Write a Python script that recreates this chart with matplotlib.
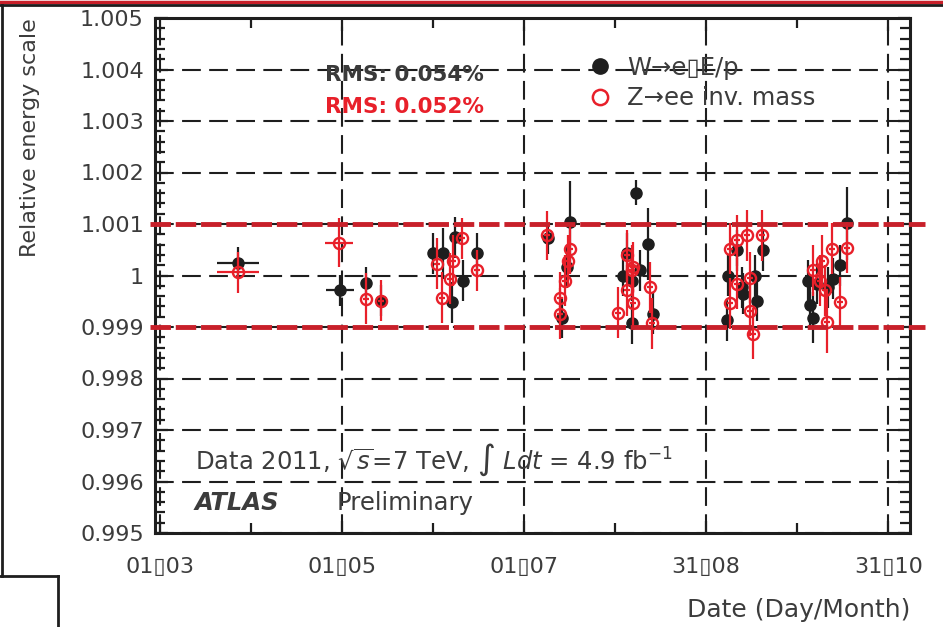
import numpy as np
import matplotlib
matplotlib.use("Agg")
from matplotlib import pyplot as plt
from matplotlib.lines import Line2D

plt.rcParams['font.family'] = ['DejaVu Sans']

# day of year 2011
w_day = [86.1, 120.3, 129.0, 134.1, 151.5, 154.8, 158.9, 157.9, 161.5, 166.2,
         190.0, 197.4, 196.4, 194.7, 219.5, 223.5, 216.5, 215.2, 220.9, 218.2,
         225.2, 218.2, 253.4, 262.1, 250.3, 259.4, 255.0, 250.0, 255.4, 260.1,
         290.1, 287.8, 285.5, 277.2, 277.8, 280.2, 283.8, 278.8]
w_val = [1.00025, 0.99971, 0.99986, 0.99951, 1.00043, 1.00043, 1.00074, 0.99948, 0.99990, 1.00043,
         1.00072, 1.00103, 1.00016, 0.99918, 1.00161, 1.00062, 1.00043, 1.00000, 1.00010, 0.99990,
         0.99926, 0.99907, 1.00049, 1.00049, 1.00000, 1.00000, 0.99977, 0.99913, 0.99965, 0.99951,
         1.00101, 1.00020, 0.99994, 0.99990, 0.99942, 0.99984, 0.99977, 0.99918]
w_err = [0.0003, 0.0003, 0.0003, 0.0003, 0.0004, 0.0005, 0.0004, 0.0004, 0.0004, 0.0004,
         0.0003, 0.0008, 0.0004, 0.0004, 0.00025, 0.0007, 0.0004, 0.0004, 0.0004, 0.0004,
         0.0004, 0.0004, 0.0004, 0.0004, 0.0004, 0.0004, 0.0004, 0.0004, 0.0004, 0.0004,
         0.0007, 0.0004, 0.0004, 0.0004, 0.0004, 0.0004, 0.0004, 0.0005]
w_dx = [7, 4.7] + [1] * 36

z_day = [86.1, 120.0, 129.0, 134.1, 161.2, 158.2, 152.8, 166.2, 157.2, 154.5,
         189.7, 197.4, 196.7, 195.7, 194.0, 194.0, 216.5, 218.5, 224.2, 218.2,
         216.5, 213.5, 224.9, 218.5, 251.0, 256.7, 261.7, 253.4, 257.7, 253.4,
         251.0, 257.7, 258.7, 290.1, 285.1, 281.8, 278.8, 287.8, 282.8, 283.5, 281.2]
z_val = [1.00006, 1.00064, 0.99955, 0.99951, 1.00072, 1.00029, 1.00023, 1.00010, 0.99994, 0.99957,
         1.00078, 1.00052, 1.00029, 0.99990, 0.99957, 0.99926, 1.00039, 1.00016, 0.99977, 1.00010,
         0.99971, 0.99928, 0.99907, 0.99946, 1.00052, 1.00078, 1.00078, 1.00068, 0.99996, 0.99984,
         0.99946, 0.99932, 0.99887, 1.00054, 1.00052, 1.00029, 1.00010, 0.99948, 0.99971, 0.99909, 0.99990]
z_err = [0.0004, 0.00048, 0.0005, 0.0004, 0.0004, 0.0005, 0.0005, 0.0004, 0.0005, 0.0005,
         0.00047] + [0.0005] * 28 + [0.0006, 0.0005]
z_dx = [7, 4.7] + [1] * 39

tick_days = [60, 121, 182, 243, 304]
tick_labels = ['01\u25af03', '01\u25af05', '01\u25af07', '31\u25af08', '31\u25af10']
y_ticks = [0.995, 0.996, 0.997, 0.998, 0.999, 1.0, 1.001, 1.002, 1.003, 1.004, 1.005]
y_labels = ['0.995', '0.996', '0.997', '0.998', '0.999', '1', '1.001', '1.002', '1.003', '1.004', '1.005']
band = [0.999, 1.001]

W, H = 943, 627
fig = plt.figure(figsize=(W / 100, H / 100), dpi=100)
ax = fig.add_axes([155 / W, 1 - 533 / H, (910 - 155) / W, (533 - 18) / H])

red = '#e8202a'
dark_red = '#c8202a'
txt = '#3c3c3c'

ax.errorbar(w_day, w_val, yerr=w_err, xerr=w_dx, fmt='o', color='#1e1e1e',
            ms=8, elinewidth=1.6, capsize=0, zorder=3)
ax.errorbar(z_day, z_val, yerr=z_err, xerr=z_dx, fmt='o', color=red, mfc='none',
            mec=red, mew=1.7, ms=8, elinewidth=1.6, capsize=0, zorder=4)

for b in band:
    ax.axhline(b, xmin=-0.006, xmax=1.02, color=dark_red, lw=3.5,
               ls=(0, (4.2, 1.0)), clip_on=False, zorder=5)

ax.set_xlim(58.3, 311.3)
ax.set_ylim(0.995, 1.005)
ax.set_xticks(tick_days)
ax.set_xticklabels(tick_labels)
ax.set_xticks([90.5, 151.5, 212.5, 273.5], minor=True)
ax.set_yticks(y_ticks)
ax.set_yticklabels(y_labels)
ax.set_yticks(np.arange(0.995, 1.0051, 0.0002), minor=True)

ax.grid(True, which='major', color='#1e1e1e', lw=1.5, ls=(0, (9, 4)))
ax.set_axisbelow(True)
for s in ax.spines.values():
    s.set_linewidth(2.2)
    s.set_color('#1e1e1e')
ax.tick_params(which='both', direction='in', top=True, right=True, width=1.6,
               color='#1e1e1e', labelcolor=txt, labelsize=16)
ax.tick_params(which='major', length=9, pad=8)
ax.tick_params(which='minor', length=7)
ax.tick_params(axis='x', which='major', pad=17)

fig.text(30 / W, 1 - 18 / H, 'Relative energy scale', rotation=90, ha='center',
         va='top', fontsize=16, color=txt)
fig.text(910 / W, 1 - 610 / H, 'Date (Day/Month)', ha='right', va='center',
         fontsize=18, color=txt)

fig.text(325 / W, 1 - 75 / H, 'RMS: 0.054%', fontsize=15.5, fontweight='bold',
         color='#3a3a3a', va='center')
fig.text(325 / W, 1 - 107 / H, 'RMS: 0.052%', fontsize=15.5, fontweight='bold',
         color=red, va='center')

fig.text(195 / W, 1 - 460 / H, r'Data 2011, $\sqrt{s}$=7 TeV, $\int$ $Ldt$ = 4.9 fb$^{-1}$',
         fontsize=17.5, color=txt, va='center')
fig.text(195 / W, 1 - 503 / H, 'ATLAS', fontsize=17.5, fontweight='bold',
         fontstyle='italic', color=txt, va='center')
fig.text(337 / W, 1 - 503 / H, 'Preliminary', fontsize=17.5, color=txt, va='center')

handles = [Line2D([], [], ls='none', marker='o', color='#1e1e1e', ms=11),
           Line2D([], [], ls='none', marker='o', mfc='none', mec=red, mew=1.8, ms=11)]
leg = ax.legend(handles, ['W\u2192e\u25afE/p', 'Z\u2192ee inv. mass'],
                loc='upper left', bbox_to_anchor=(588 / W, 1 - 56 / H),
                bbox_transform=fig.transFigure, frameon=False, fontsize=17.5,
                handlelength=1.0, handletextpad=0.6, borderpad=0,
                borderaxespad=0, labelspacing=0.25, labelcolor=txt)

# screenshot frame remnants
fig.add_artist(Line2D([0, 1], [1 - 1.5 / H] * 2, color=dark_red, lw=2.5,
                      transform=fig.transFigure))
fig.add_artist(Line2D([0, 1], [1 - 4.5 / H] * 2, color='#1e1e1e', lw=2,
                      transform=fig.transFigure))
fig.add_artist(Line2D([1.5 / W] * 2, [1 - 5 / H, 1 - 576 / H], color='#1e1e1e',
                      lw=2, transform=fig.transFigure))
fig.add_artist(Line2D([0, 58 / W], [1 - 576 / H] * 2, color='#1e1e1e', lw=2,
                      transform=fig.transFigure))
fig.add_artist(Line2D([58 / W] * 2, [1 - 576 / H, 0], color='#1e1e1e', lw=2,
                      transform=fig.transFigure))

fig.savefig('out.png', dpi=100)
